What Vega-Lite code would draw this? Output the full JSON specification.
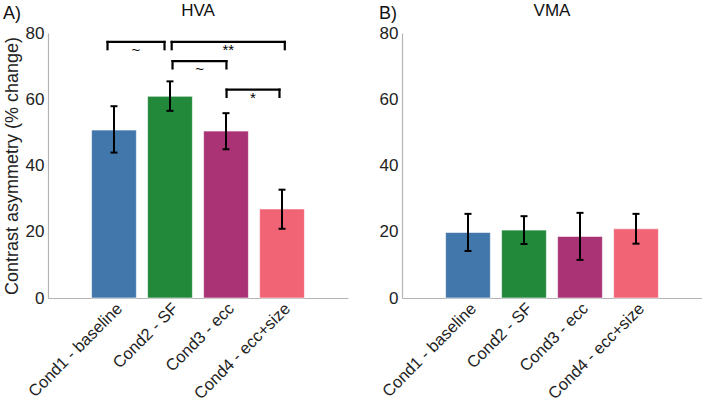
{
  "$schema": "https://vega.github.io/schema/vega-lite/v6.json",
  "background": "white",
  "padding": {"left": 3, "top": 2, "right": 0, "bottom": 0},
  "config": {
    "view": {"stroke": null},
    "font": "Liberation Sans",
    "axis": {
      "labelFont": "Liberation Sans", "labelFontSize": 17, "labelColor": "#222222",
      "titleFont": "Liberation Sans", "titleFontSize": 18, "titleFontWeight": "normal", "titleColor": "#222222",
      "domainColor": "#b4b4b4", "domainWidth": 1.2, "ticks": false, "grid": false, "labelPadding": 4
    },
    "title": {"font": "Liberation Sans", "fontWeight": "normal", "color": "#111111"}
  },
  "datasets": {
    "hva": [
      {"cond": "Cond1 - baseline", "mean": 50.7, "lo": 43.9, "hi": 57.9},
      {"cond": "Cond2 - SF", "mean": 60.9, "lo": 56.5, "hi": 65.4},
      {"cond": "Cond3 - ecc", "mean": 50.4, "lo": 44.9, "hi": 55.8},
      {"cond": "Cond4 - ecc+size", "mean": 26.9, "lo": 20.9, "hi": 32.7}
    ],
    "vma": [
      {"cond": "Cond1 - baseline", "mean": 19.8, "lo": 14.2, "hi": 25.4},
      {"cond": "Cond2 - SF", "mean": 20.5, "lo": 16.3, "hi": 24.7},
      {"cond": "Cond3 - ecc", "mean": 18.6, "lo": 11.5, "hi": 25.7},
      {"cond": "Cond4 - ecc+size", "mean": 20.9, "lo": 16.4, "hi": 25.4}
    ],
    "brackets": [
      {"from": 0.884, "to": 1.902, "mid": 1.39, "y": 77.3, "leg": 75.1, "label": "~"},
      {"from": 2.03, "to": 4.05, "mid": 3.04, "y": 77.3, "leg": 75.1, "label": "**"},
      {"from": 2.045, "to": 3.008, "mid": 2.53, "y": 71.5, "leg": 69.3, "label": "~"},
      {"from": 3.01, "to": 3.955, "mid": 3.48, "y": 62.9, "leg": 60.7, "label": "*"}
    ]
  },
  "spacing": 31,
  "hconcat": [
    {
      "title": {"text": "A)", "anchor": "start", "frame": "bounds", "fontSize": 18, "offset": -21},
      "hconcat": [
        {
          "title": {"text": "HVA", "fontSize": 17, "offset": 4},
          "width": 300,
          "height": 265,
          "resolve": {"scale": {"x": "independent"}},
          "layer": [
            {
              "data": {"name": "hva"},
              "layer": [
                {
                  "mark": {"type": "bar", "stroke": "#ffffff", "strokeWidth": 1, "strokeOpacity": 0.6},
                  "encoding": {
                    "x": {"field": "cond", "type": "nominal", "sort": null, "title": null,
                      "scale": {"paddingInner": 0.2, "paddingOuter": 0.778},
                      "axis": {"labelAngle": -45, "labelAlign": "right", "labelBaseline": "top", "labelFontSize": 16.5, "labelPadding": 2, "labelDx": 2}},
                    "y": {"field": "mean", "type": "quantitative", "title": "Contrast asymmetry (% change)",
                      "scale": {"domain": [0, 80], "nice": false},
                      "axis": {"values": [0, 20, 40, 60, 80], "titlePadding": 4}},
                    "color": {"field": "cond", "type": "nominal", "sort": null, "legend": null,
                      "scale": {"range": ["#4177ab", "#23893a", "#a93375", "#f06476"]}}
                  }
                },
                {
                  "mark": {"type": "rule", "color": "#000000", "strokeWidth": 2},
                  "encoding": {
                    "x": {"field": "cond", "type": "nominal", "sort": null},
                    "y": {"field": "lo", "type": "quantitative"},
                    "y2": {"field": "hi"}
                  }
                },
                {
                  "transform": [{"fold": ["lo", "hi"], "as": ["end", "val"]}],
                  "mark": {"type": "tick", "color": "#000000", "thickness": 2, "size": 7, "orient": "horizontal", "opacity": 1},
                  "encoding": {
                    "x": {"field": "cond", "type": "nominal", "sort": null},
                    "y": {"field": "val", "type": "quantitative"}
                  }
                }
              ]
            },
            {
              "data": {"name": "brackets"},
              "layer": [
                {
                  "mark": {"type": "rule", "color": "#000000", "strokeWidth": 2.2, "strokeCap": "square"},
                  "encoding": {
                    "x": {"field": "from", "type": "quantitative", "scale": {"domain": [-0.1786, 5.1786], "nice": false, "zero": false}, "axis": null},
                    "x2": {"field": "to"},
                    "y": {"field": "y", "type": "quantitative"}
                  }
                },
                {
                  "transform": [{"fold": ["from", "to"], "as": ["side", "xs"]}],
                  "mark": {"type": "rule", "color": "#000000", "strokeWidth": 2.2, "strokeCap": "square"},
                  "encoding": {
                    "x": {"field": "xs", "type": "quantitative", "scale": {"domain": [-0.1786, 5.1786], "nice": false, "zero": false}, "axis": null},
                    "y": {"field": "y", "type": "quantitative"},
                    "y2": {"field": "leg"}
                  }
                },
                {
                  "mark": {"type": "text", "fontSize": 15, "baseline": "top", "dy": 1, "color": "#000000"},
                  "encoding": {
                    "x": {"field": "mid", "type": "quantitative", "axis": null},
                    "y": {"field": "y", "type": "quantitative"},
                    "text": {"field": "label"}
                  }
                }
              ]
            }
          ]
        }
      ]
    },
    {
      "title": {"text": "B)", "anchor": "start", "frame": "bounds", "fontSize": 18, "offset": -21},
      "hconcat": [
        {
          "title": {"text": "VMA", "fontSize": 17, "offset": 4},
          "width": 300,
          "height": 265,
          "data": {"name": "vma"},
          "layer": [
            {
              "mark": {"type": "bar", "stroke": "#ffffff", "strokeWidth": 1, "strokeOpacity": 0.6},
              "encoding": {
                "x": {"field": "cond", "type": "nominal", "sort": null, "title": null,
                  "scale": {"paddingInner": 0.2, "paddingOuter": 0.778},
                  "axis": {"labelAngle": -45, "labelAlign": "right", "labelBaseline": "top", "labelFontSize": 16.5, "labelPadding": 2, "labelDx": 2}},
                "y": {"field": "mean", "type": "quantitative", "title": null,
                  "scale": {"domain": [0, 80], "nice": false},
                  "axis": {"values": [0, 20, 40, 60, 80]}},
                "color": {"field": "cond", "type": "nominal", "sort": null, "legend": null,
                  "scale": {"range": ["#4177ab", "#23893a", "#a93375", "#f06476"]}}
              }
            },
            {
              "mark": {"type": "rule", "color": "#000000", "strokeWidth": 2},
              "encoding": {
                "x": {"field": "cond", "type": "nominal", "sort": null},
                "y": {"field": "lo", "type": "quantitative"},
                "y2": {"field": "hi"}
              }
            },
            {
              "transform": [{"fold": ["lo", "hi"], "as": ["end", "val"]}],
              "mark": {"type": "tick", "color": "#000000", "thickness": 2, "size": 7, "orient": "horizontal", "opacity": 1},
              "encoding": {
                "x": {"field": "cond", "type": "nominal", "sort": null},
                "y": {"field": "val", "type": "quantitative"}
              }
            }
          ]
        }
      ]
    }
  ]
}
